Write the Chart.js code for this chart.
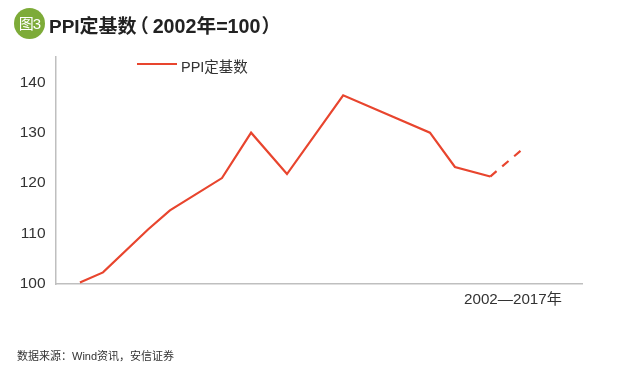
<!DOCTYPE html>
<html>
<head>
<meta charset="utf-8">
<style>
  html, body { margin:0; padding:0; background:#fff; }
  #wrap { position:relative; width:619px; height:378px; overflow:hidden; font-family:"Liberation Sans","Noto Sans CJK SC",sans-serif; color:#333; }
  #wrap canvas { position:absolute; left:0; top:0; }
  #wrap div { position:absolute; white-space:nowrap; }
  #badge { left:14px; top:8px; width:31px; height:31px; border-radius:50%; background:#7dab38; color:#fff; font-size:15px; line-height:31px; text-align:center; letter-spacing:-1px; }
  #title { left:49px; top:14px; font-size:19px; line-height:24px; font-weight:bold; color:#222; }
  #title .num { font-size:19.7px; }
  #title .open { margin-left:-7px; margin-right:4px; }
  #title .close { margin-left:1px; }
  #legLine { left:137px; top:63px; width:40px; height:2px; background:#e8452e; }
  #legText { left:181px; top:58px; font-size:14.5px; line-height:18px; }
  #range { left:464px; top:290px; font-size:15.2px; line-height:18px; }
  #source { left:17px; top:349px; font-size:11px; line-height:15px; }
</style>
</head>
<body>
<div id="wrap">
  <canvas id="c" width="619" height="378"></canvas>
  <div id="badge">图3</div>
  <div id="title">PPI定基数<span class="open">（</span><span class="num">2002年=100</span><span class="close">）</span></div>
  <div id="legLine"></div>
  <div id="legText">PPI定基数</div>
  <div id="range">2002—2017年</div>
  <div id="source">数据来源：Wind资讯，安信证券</div>
</div>
<script src="https://cdn.jsdelivr.net/npm/chart.js@4"></script>
<script>
const years = [2002, 2002.785, 2004.315, 2005.06, 2006.83, 2007.82, 2009.04, 2010.95, 2013.9, 2014.75, 2015.95, 2017];
const ppi = [100.3, 102.3, 110.8, 114.6, 121, 130, 121.8, 137.4, 130, 123.2, 121.3, 126.5];
const yTicks = [100, 110, 120, 130, 140];
const lineColor = '#e8452e';

new Chart(document.getElementById('c').getContext('2d'), {
  type: 'line',
  data: {
    datasets: [{
      label: 'PPI定基数',
      data: years.map((y, i) => ({ x: y, y: ppi[i] })),
      borderColor: lineColor,
      borderWidth: 2.2,
      pointRadius: 0,
      tension: 0,
      // last stretch is the dashed one
      segment: { borderDash: ctx => ctx.p1DataIndex === years.length - 1 ? [8.3, 7.4] : undefined }
    }]
  },
  options: {
    responsive: false,
    animation: false,
    layout: { padding: { top: 57, right: 37, bottom: 94, left: 0 } },
    plugins: { legend: { display: false }, tooltip: { enabled: false } },
    scales: {
      x: {
        type: 'linear', min: 2001.17, max: 2019.07,
        ticks: { display: false },
        grid: { display: false },
        border: { color: '#bfbfbf', width: 1.5 },
        afterFit: s => { s.height = 0; }
      },
      y: {
        min: 100, max: 145,
        afterFit: s => { s.width = 55.5; },
        afterBuildTicks: s => { s.ticks = yTicks.map(v => ({ value: v })); },
        ticks: { color: '#333', font: { family: '"Liberation Sans"', size: 15.5 }, padding: 2 },
        grid: { display: false },
        border: { color: '#bfbfbf', width: 1.5 }
      }
    }
  }
});
</script>
</body>
</html>
